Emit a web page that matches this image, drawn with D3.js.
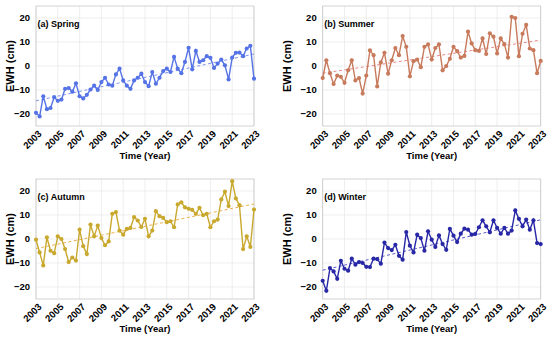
<!DOCTYPE html>
<html><head><meta charset="utf-8">
<script src="https://cdn.jsdelivr.net/npm/d3@7"></script>
<style>
html,body{margin:0;padding:0;background:#fff;}
svg{display:block;}
text{font-family:"Liberation Sans",Arial,Helvetica,sans-serif;font-weight:bold;fill:#000;}
</style></head>
<body>
<svg id="c" width="550" height="338"></svg>
<script>
const startYear = 2003, endYear = 2023;
const xTicks = [2003,2005,2007,2009,2011,2013,2015,2017,2019,2021,2023];
const yTicks = [-20,-10,0,10,20];
const titles = ["(a) Spring","(b) Summer","(c) Autumn","(d) Winter"];

const spring = [-19.5,-21,-12.6,-18,-17.5,-13,-14.5,-14,-9.5,-9.2,-10.7,-7.2,-12.6,-13.5,-12,-9.8,-8.2,-10,-6.7,-4.9,-7.7,-8.2,-3.5,-1.1,-6,-8.2,-9.5,-6,-4.9,-3.2,-6.7,-8.4,-2.5,-7.4,-4.9,-2.1,-1.1,-2.5,3.8,-1.1,-3,1.7,7.6,-1.4,6.3,1.7,2.4,4.1,3.4,-0.8,1,2.7,0.3,-5.6,3.5,5.5,5.6,4.1,7.3,8.4,-5.3];
const summer = [-5,2.4,-3,-7.5,-4,-4.5,-7,-1.8,2.4,-6,-5,-11.5,-4,6.5,4.5,-8.5,1.5,5.5,-3.2,2.4,7.5,4.5,12.5,8,-4.3,2,2.7,-0.5,8,9,2.7,7.5,9,-1.8,0,3,8,6.2,3.5,4.2,14.3,9.4,6.6,6.3,11.5,5,13.6,12.2,5.2,11.5,9.1,3.5,20.5,20,4.1,13.4,17.1,7.3,6.6,-3,2.1];
const autumn = [-0.3,-5.6,-11,0.7,-4.9,-5.9,1.1,0,-4.2,-9.6,-7.7,-9,3.9,-3,-6.3,6,1.1,5.6,0.4,-2.6,-1,10.5,11.2,3.5,1.8,4.2,4.6,9.1,7.7,5,8.4,1.1,3.5,11.6,9.5,8.8,7,7.4,4.9,14.4,15.3,13.2,12.6,12.1,10.5,13,9.9,10.5,4.9,7.4,8.1,16.5,19.7,13.7,24.1,16.9,14.1,-4.2,1.1,-3.3,12.3];
const winter = [-17.4,-21.6,-12.1,-13.5,-16.6,-9.1,-12.4,-13.2,-8.2,-10.7,-9.6,-10,-11.6,-11.7,-8.2,-8.4,-10.3,-1.5,-3.8,-4.6,-2.4,-7,-8.6,2.9,-2.8,-5.6,1.8,0.4,-4.9,3.2,-0.3,-3.3,1.5,-2.1,-4.5,4.2,1.4,-1.3,2.2,4.3,3.9,1.8,2.1,4.9,7.8,5.3,2.8,7.8,4.6,2.2,4.6,2.2,3.5,11.9,8.4,5.3,8.1,3.9,7.8,-1.7,-2.1];
// trend line end values (start year, end year)
const trendSpring = [-14.5, 5.0];
const trendSummer = [-3.0, 10.8];
const trendAutumn = [-4.0, 14.6];
const trendWinter = [-13.0, 8.0];

const series = [spring, summer, autumn, winter];
const trends = [trendSpring, trendSummer, trendAutumn, trendWinter];
const lineColors = ["#5573e6","#c87a5c","#c9a82e","#2828a6"];
const trendColors = ["#7f95e8","#e88a8a","#e8b04a","#5a5ac8"];

const panels = [
  {x0:36, x1:254, y0:6, y1:126, labX:10, timeY:158.5},
  {x0:322.7, x1:540.7, y0:6, y1:126, labX:286.5, timeY:158.5},
  {x0:36, x1:254, y0:179, y1:299, labX:10, timeY:331.5},
  {x0:322.7, x1:540.7, y0:179, y1:299, labX:286.5, timeY:331.5}
];

const svg = d3.select("#c");

panels.forEach((p, k) => {
  const x = d3.scaleLinear().domain([startYear, endYear]).range([p.x0, p.x1]);
  const y = d3.scaleLinear().domain([-25, 25]).range([p.y1, p.y0]);
  const g = svg.append("g");
  // grid
  g.selectAll(".vg").data(xTicks).enter().append("line")
    .attr("x1", d=>x(d)).attr("x2", d=>x(d)).attr("y1", p.y0).attr("y2", p.y1)
    .attr("stroke", "#e6e6e6").attr("stroke-width", 0.7);
  g.selectAll(".hg").data(yTicks).enter().append("line")
    .attr("x1", p.x0).attr("x2", p.x1).attr("y1", d=>y(d)).attr("y2", d=>y(d))
    .attr("stroke", "#e6e6e6").attr("stroke-width", 0.7);
  // box
  g.append("rect").attr("x", p.x0).attr("y", p.y0).attr("width", p.x1-p.x0).attr("height", p.y1-p.y0)
    .attr("fill", "none").attr("stroke", "#c8c8c8").attr("stroke-width", 0.8);
  // y tick labels
  g.selectAll(".yl").data(yTicks).enter().append("text")
    .attr("x", p.x0 - 6).attr("y", d=>y(d)).attr("dy", "0.35em")
    .attr("text-anchor", "end").attr("font-size", 9.5)
    .text(d => d < 0 ? "\u2212" + Math.abs(d) : d);
  // x tick labels
  g.selectAll(".xl").data(xTicks).enter().append("text")
    .attr("transform", d => `translate(${x(d)+4},${p.y1+6}) rotate(-45)`)
    .attr("text-anchor", "end").attr("dy", "0.35em").attr("font-size", 9.6)
    .text(d => d);
  // axis labels
  g.append("text").attr("x", (p.x0+p.x1)/2).attr("y", p.timeY).attr("text-anchor", "middle")
    .attr("font-size", 9.5).text("Time (Year)");
  g.append("text").attr("transform", `translate(${p.labX+4},${(p.y0+p.y1)/2}) rotate(-90)`)
    .attr("text-anchor", "middle").attr("font-size", 11).text("EWH (cm)");
  // trend
  const t = trends[k];
  g.append("line").attr("x1", x(startYear)).attr("x2", x(endYear)).attr("y1", y(t[0])).attr("y2", y(t[1]))
    .attr("stroke", trendColors[k]).attr("stroke-width", 1).attr("stroke-dasharray", "3,2.5");
  // data line
  const data = series[k].map((v, i) => ({t: startYear + i*(endYear-startYear)/(series[k].length-1), v}));
  g.append("path").datum(data)
    .attr("d", d3.line().x(d=>x(d.t)).y(d=>y(d.v)))
    .attr("fill", "none").attr("stroke", lineColors[k]).attr("stroke-width", 1.4);
  g.selectAll(".pt").data(data).enter().append("circle")
    .attr("cx", d=>x(d.t)).attr("cy", d=>y(d.v)).attr("r", 2.1)
    .attr("fill", lineColors[k]);
  // title
  g.append("text").attr("x", p.x0 + 1.5).attr("y", p.y0 + (k<2 ? 21 : 20.5))
    .attr("font-size", 9).text(titles[k]);
});
</script>
</body></html>
